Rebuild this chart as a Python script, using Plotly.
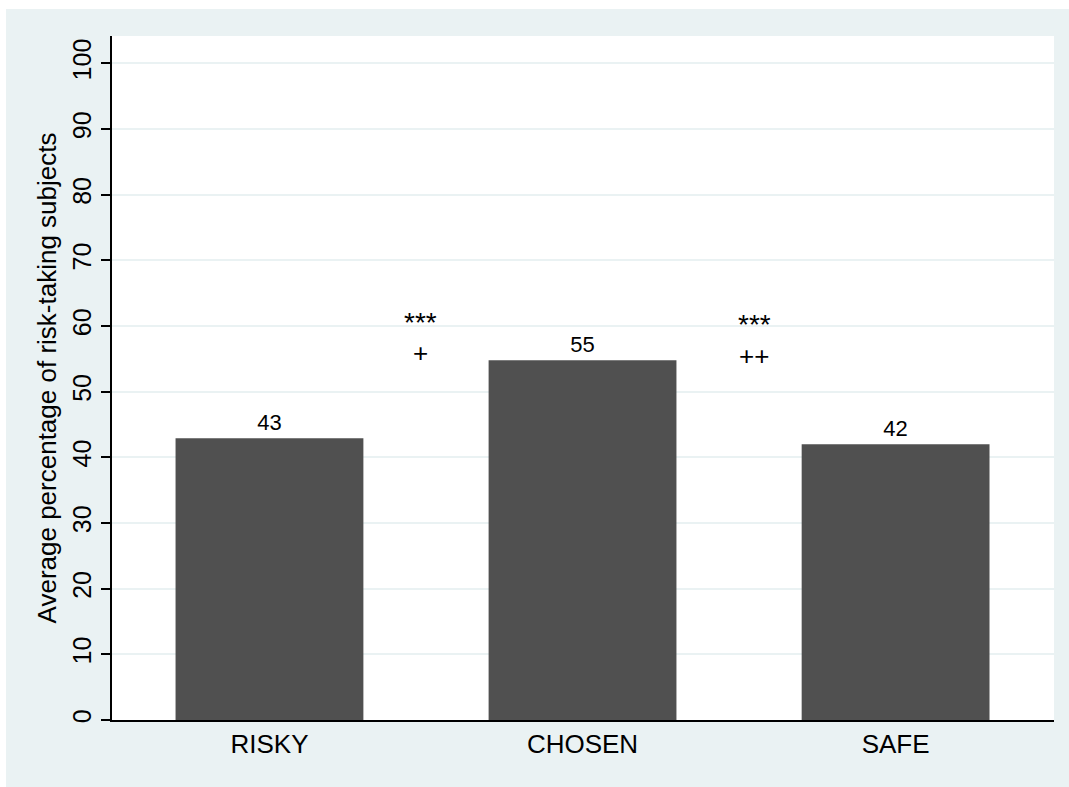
import plotly.graph_objects as go

# Treatment groups and the average share of risk-taking subjects (%)
categories = ["RISKY", "CHOSEN", "SAFE"]
risk_share = [42.9, 54.8, 42.0]

# Significance markers placed between neighbouring bars
sig_x = [0.484, 1.548]
sig_stars = ["***", "***"]
sig_plus = ["+", "++"]
stars_y = [60.6, 60.3]
plus_y = [55.9, 55.5]

y_ticks = [0, 10, 20, 30, 40, 50, 60, 70, 80, 90, 100]

BG = "#eaf2f3"
BAR = "#505050"
INK = "#000000"
FONT = "Liberation Sans, Arial, Helvetica, sans-serif"

W, H = 1069, 787
ML, MR, MT, MB = 112, 15, 36, 67
PW, PH = W - ML - MR, H - MT - MB

fig = go.Figure()
fig.add_trace(go.Bar(
    x=list(range(len(categories))),
    y=risk_share,
    width=0.6,
    marker=dict(color=BAR, line=dict(width=0)),
    text=[f"{v:.0f}" for v in risk_share],
    textposition="outside",
    textfont=dict(family=FONT, size=22, color=INK),
    cliponaxis=False,
    hoverinfo="skip",
))

# Stars above, plus signs below, in the gaps between bars
for x, s, p, ys, yp in zip(sig_x, sig_stars, sig_plus, stars_y, plus_y):
    fig.add_annotation(x=x, y=ys, text=s, showarrow=False, yanchor="middle",
                       borderpad=0,
                       font=dict(family=FONT, size=28, color=INK))
    fig.add_annotation(x=x, y=yp, text=p, showarrow=False, yanchor="middle",
                       borderpad=0,
                       font=dict(family=FONT, size=26, color=INK))


def px_x(p):
    return (p - ML) / PW


def px_y(p):
    # p measured from the top of the page
    return (H - p - MB) / PH


# White strips around the tinted graph region
fig.add_shape(type="rect", xref="paper", yref="paper", layer="below",
              x0=px_x(0), x1=px_x(W), y0=px_y(9), y1=px_y(0),
              fillcolor="white", line=dict(width=0))
fig.add_shape(type="rect", xref="paper", yref="paper", layer="below",
              x0=px_x(0), x1=px_x(6), y0=px_y(H), y1=px_y(0),
              fillcolor="white", line=dict(width=0))

fig.update_layout(
    width=W, height=H,
    margin=dict(l=ML, r=MR, t=MT, b=MB),
    paper_bgcolor=BG,
    plot_bgcolor="white",
    showlegend=False,
    font=dict(family=FONT, color=INK),
)

fig.update_xaxes(
    range=[-0.503, 2.506],
    tickmode="array",
    tickvals=list(range(len(categories))),
    ticktext=categories,
    ticks="",
    tickfont=dict(family=FONT, size=26, color=INK),
    showgrid=False,
    showline=True, linecolor=INK, linewidth=1.5,
    zeroline=False,
)

fig.update_yaxes(
    range=[0, 104.16],
    tickmode="array",
    tickvals=y_ticks,
    ticks="outside", ticklen=9, tickwidth=1.5, tickcolor=INK,
    tickangle=-90,
    tickfont=dict(family=FONT, size=25, color=INK),
    showgrid=True, gridcolor=BG, gridwidth=2,
    showline=True, linecolor=INK, linewidth=1.5,
    zeroline=False,
    title=dict(text="Average percentage of risk-taking subjects",
               font=dict(family=FONT, size=26, color=INK),
               standoff=4),
)

fig.write_html("out.html")
